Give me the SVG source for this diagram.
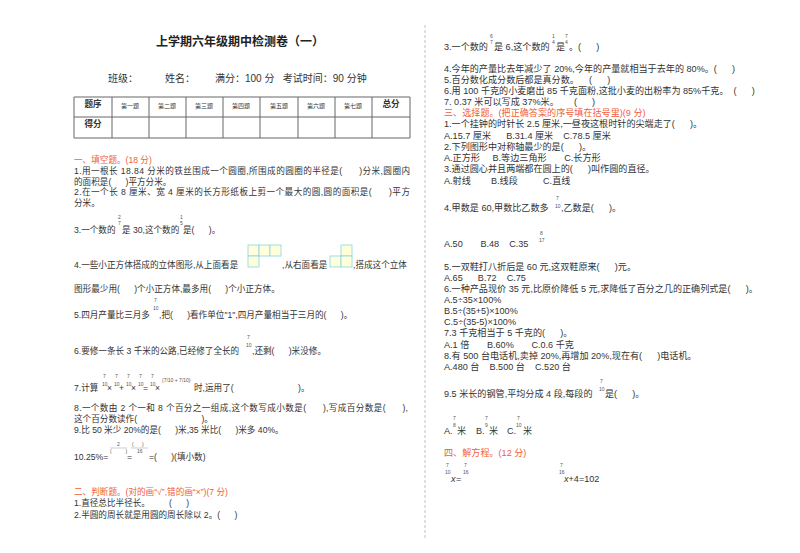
<svg xmlns="http://www.w3.org/2000/svg" width="800" height="553" viewBox="0 0 800 553">
<style>
text{font-family:"Liberation Sans","Noto Sans CJK SC",sans-serif;font-size:8.6px;fill:#333;white-space:pre}
.R{font-size:9.1px}
.r{fill:#f0603a}
.f{font-size:5px;fill:#555}
.t{font-size:12px;font-weight:bold;fill:#222}
.h{font-size:10px}
.s{font-size:6px}
.b{font-weight:bold;font-size:8.6px}
.g line{stroke:#666;stroke-width:1}
.c rect{fill:#ffffdc;stroke:#88d4e4;stroke-width:0.8}
</style>
<rect width="800" height="553" fill="#fff"/>
<line x1="425" y1="25" x2="425" y2="540" stroke="#999" stroke-width="0.6" stroke-dasharray="3,2"/>
<text class="t" x="240" y="46" text-anchor="middle">上学期六年级期中检测卷（一）</text>
<text class="h" x="108" y="82">班级：</text>
<text class="h" x="165" y="82">姓名：</text>
<text class="h" x="215" y="82">满分：100 分   考试时间：90 分钟</text>
<g class="g" id="table">
<line x1="74" y1="97" x2="410" y2="97"/><line x1="74" y1="117" x2="410" y2="117"/><line x1="74" y1="138" x2="410" y2="138"/>
<line x1="74" y1="97" x2="74" y2="138"/><line x1="112" y1="97" x2="112" y2="138"/><line x1="149" y1="97" x2="149" y2="138"/><line x1="186" y1="97" x2="186" y2="138"/><line x1="223" y1="97" x2="223" y2="138"/><line x1="260" y1="97" x2="260" y2="138"/><line x1="298" y1="97" x2="298" y2="138"/><line x1="335" y1="97" x2="335" y2="138"/><line x1="372" y1="97" x2="372" y2="138"/><line x1="410" y1="97" x2="410" y2="138"/>
</g>
<text class="b" x="93" y="107" text-anchor="middle">题序</text>
<text class="s" x="130" y="108" text-anchor="middle">第一题</text>
<text class="s" x="167" y="108" text-anchor="middle">第二题</text>
<text class="s" x="204" y="108" text-anchor="middle">第三题</text>
<text class="s" x="241" y="108" text-anchor="middle">第四题</text>
<text class="s" x="279" y="108" text-anchor="middle">第五题</text>
<text class="s" x="316" y="108" text-anchor="middle">第六题</text>
<text class="s" x="353" y="108" text-anchor="middle">第七题</text>
<text class="b" x="391" y="107" text-anchor="middle">总分</text>
<text class="b" x="93" y="127" text-anchor="middle">得分</text>

<text class="r" x="74" y="163">一、填空题。(18 分)</text>
<text x="74" y="174" textLength="336">1.用一根长 18.84 分米的铁丝围成一个圆圈,所围成的圆圈的半径是(      )分米,圆圈内</text>
<text x="74" y="185">的面积是(      )平方分米。</text>
<text x="74" y="195" textLength="336">2.在一个长 8 厘米、宽 4 厘米的长方形纸板上剪一个最大的圆,圆的面积是(      )平方</text>
<text x="74" y="206">分米。</text>
<text class="f" x="118" y="219">2</text><text class="f" x="118" y="225">7</text>
<text class="f" x="180" y="219">1</text><text class="f" x="180" y="225">5</text>
<text x="74" y="233">3.一个数的</text><text x="122" y="233">是 30,这个数的</text><text x="183" y="233">是(      )。</text>
<g class="c" id="top-view"><rect x="248" y="245" width="11" height="11"/><rect x="259" y="245" width="11" height="11"/><rect x="270" y="245" width="11" height="11"/><rect x="248" y="256" width="11" height="11"/></g>
<g class="c" id="right-view"><rect x="341" y="245" width="11" height="11"/><rect x="330" y="256" width="11" height="11"/><rect x="341" y="256" width="11" height="11"/></g>
<text x="74" y="268">4.一些小正方体搭成的立体图形,从上面看是</text>
<text x="282" y="268">,从右面看是</text>
<text x="353" y="268">,搭成这个立体</text>
<text x="74" y="292">图形最少用(      )个小正方体,最多用(      )个小正方体。</text>
<text class="f" x="154" y="302">7</text><text class="f" x="153" y="310">10</text>
<text x="74" y="318">5.四月产量比三月多</text><text x="159" y="318">,把(      )看作单位"1",四月产量相当于三月的(      )。</text>
<text class="f" x="247" y="339">7</text><text class="f" x="246" y="347">10</text>
<text x="74" y="354">6.要修一条长 3 千米的公路,已经修了全长的</text><text x="252" y="354">,还剩(      )米没修。</text>
<text class="f" x="103" y="378">7</text><text class="f" x="102" y="386">10</text>
<text class="f" x="115" y="378">7</text><text class="f" x="114" y="386">10</text>
<text class="f" x="127" y="378">7</text><text class="f" x="126" y="386">10</text>
<text class="f" x="139" y="378">7</text><text class="f" x="138" y="386">10</text>
<text class="f" x="151" y="378">7</text><text class="f" x="150" y="386">10</text>
<text class="f" x="162" y="382">(7/10 + 7/10)</text>
<text x="74" y="391">7.计算</text><text x="107" y="391">×</text><text x="119" y="391">+</text><text x="131" y="391">×</text><text x="143" y="391">=</text><text x="155" y="391">×</text>
<text x="194" y="391">时,运用了(                           )。</text>
<text x="74" y="411" textLength="334">8.一个数由 2 个一和 8 个百分之一组成,这个数写成小数是(      ),写成百分数是(      ),</text>
<text x="74" y="422">这个百分数读作(                           )。</text>
<text x="74" y="433">9.比 50 米少 20%的是(      )米,35 米比(      )米多 40%。</text>
<line x1="110" y1="448" x2="127" y2="448" stroke="#999" stroke-width="0.5"/>
<line x1="131" y1="448" x2="148" y2="448" stroke="#999" stroke-width="0.5"/>
<text class="f" x="117" y="446">2</text><text class="f" x="132" y="446">(      )</text>
<text class="f" x="110" y="453">(          )</text><text class="f" x="137" y="453">16</text>
<text x="74" y="460">10.25%=</text><text x="127" y="460">=</text><text x="149" y="460">=(      )(填小数)</text>
<text class="r" x="74" y="495">二、判断题。(对的画“√”,错的画“×”)(7 分)</text>
<text x="74" y="506">1.直径总比半径长。        (      )</text>
<text x="74" y="518">2.半圆的周长就是用圆的周长除以 2。(      )</text>

<g class="R-col">
<text class="f" x="490" y="38">6</text><text class="f" x="490" y="44">7</text>
<text class="f" x="552" y="38">1</text><text class="f" x="552" y="44">4</text>
<text class="f" x="565" y="38">7</text><text class="f" x="565" y="44">4</text>
<text class="R" x="444" y="50">3.一个数的</text><text class="R" x="494" y="50">是 6,这个数的</text><text class="R" x="556" y="50">是</text><text class="R" x="569" y="50">。(      )</text>
<text class="R" x="444" y="72">4.今年的产量比去年减少了 20%,今年的产量就相当于去年的 80%。(      )</text>
<text class="R" x="444" y="83">5.百分数化成分数后都是真分数。    (      )</text>
<text class="R" x="444" y="94">6.用 100 千克的小麦磨出 85 千克面粉,这批小麦的出粉率为 85%千克。  (      )</text>
<text class="R" x="444" y="105">7. 0.37 米可以写成 37%米。      (      )</text>
<text class="R r" x="444" y="116">三、选择题。(把正确答案的序号填在括号里)(9 分)</text>
<text class="R" x="444" y="127">1.一个挂钟的时针长 2.5 厘米,一昼夜这根时针的尖端走了(      )。</text>
<text class="R" x="444" y="139">A.15.7 厘米      B.31.4 厘米    C.78.5 厘米</text>
<text class="R" x="444" y="150">2.下列图形中对称轴最少的是(      )。</text>
<text class="R" x="444" y="161">A.正方形     B.等边三角形       C.长方形</text>
<text class="R" x="444" y="172">3.通过圆心并且两端都在圆上的(      )叫作圆的直径。</text>
<text class="R" x="444" y="184">A.射线        B.线段          C.直线</text>
<text class="f" x="556" y="200">7</text><text class="f" x="555" y="208">10</text>
<text class="R" x="444" y="211">4.甲数是 60,甲数比乙数多</text><text class="R" x="561" y="211">,乙数是(      )。</text>
<text class="f" x="540" y="235">8</text><text class="f" x="539" y="242">17</text>
<text class="R" x="444" y="247">A.50       B.48    C.35</text>
<text class="R" x="444" y="270">5.一双鞋打八折后是 60 元,这双鞋原来(      )元。</text>
<text class="R" x="444" y="281">A.65      B.72    C.75</text>
<text class="R" x="444" y="292">6.一种产品现价 35 元,比原价降低 5 元,求降低了百分之几的正确列式是(      )。</text>
<text class="R" x="444" y="303">A.5÷35×100%</text>
<text class="R" x="444" y="314">B.5÷(35+5)×100%</text>
<text class="R" x="444" y="325">C.5÷(35-5)×100%</text>
<text class="R" x="444" y="336">7.3 千克相当于 5 千克的(      )。</text>
<text class="R" x="444" y="348">A.1 倍       B.60%       C.0.6 千克</text>
<text class="R" x="444" y="359">8.有 500 台电话机,卖掉 20%,再增加 20%,现在有(      )电话机。</text>
<text class="R" x="444" y="370">A.480 台    B.500 台    C.520 台</text>
<text class="f" x="600" y="383">7</text><text class="f" x="599" y="391">10</text>
<text class="R" x="444" y="397">9.5 米长的钢管,平均分成 4 段,每段的</text><text class="R" x="605" y="397">是(      )。</text>
<text class="f" x="453" y="420">7</text><text class="f" x="453" y="427">8</text>
<text class="f" x="485" y="420">7</text><text class="f" x="485" y="427">9</text>
<text class="f" x="517" y="420">7</text><text class="f" x="516" y="427">10</text>
<text class="R" x="444" y="434">A.</text><text class="R" x="457" y="434">米</text><text class="R" x="476" y="434">B.</text><text class="R" x="489" y="434">米</text><text class="R" x="507" y="434">C.</text><text class="R" x="523" y="434">米</text>
<text class="R r" x="444" y="456">四、解方程。(12 分)</text>
<text class="f" x="446" y="467">7</text><text class="f" x="445" y="474">10</text>
<text class="f" x="464" y="467">7</text><text class="f" x="463" y="474">16</text>
<text class="R" x="451" y="482" font-style="italic">x</text><text class="R" x="456" y="482">=</text>
<text class="f" x="560" y="467">7</text><text class="f" x="559" y="474">16</text>
<text class="R" x="564" y="482"><tspan font-style="italic">x</tspan>+4=102</text>
</g>
</svg>
